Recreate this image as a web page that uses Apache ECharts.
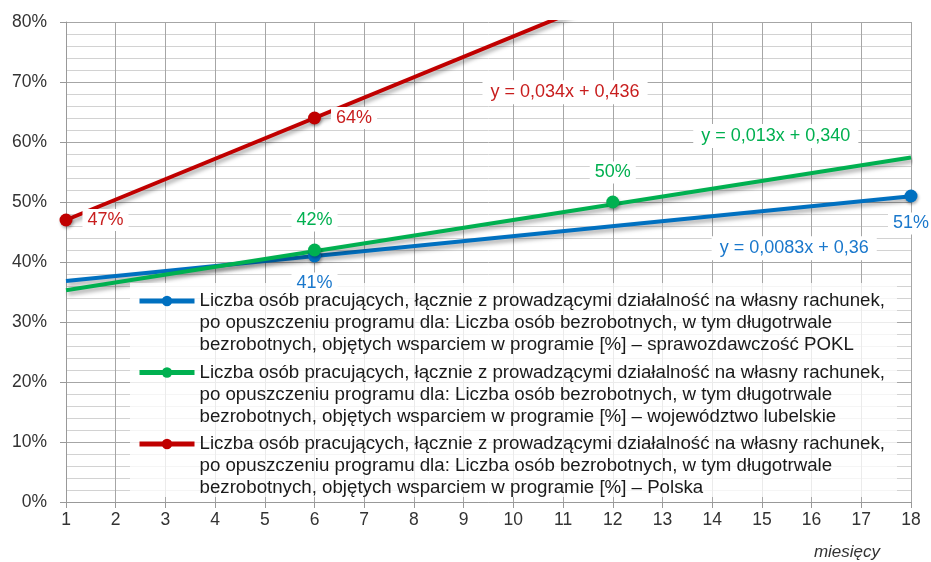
<!DOCTYPE html>
<html>
<head>
<meta charset="utf-8">
<script src="https://cdn.jsdelivr.net/npm/echarts@6/dist/echarts.min.js"></script>
<style>
  html, body { margin: 0; padding: 0; background: #fff; }
  #chart { width: 931px; height: 562px; }
</style>
</head>
<body>
<div id="chart"></div>
<script>
// Months after leaving the programme (x axis)
const monthTicks = [1, 2, 3, 4, 5, 6, 7, 8, 9, 10, 11, 12, 13, 14, 15, 16, 17, 18];

// Observed shares of employed persons
const poklMonths = [6, 18];
const poklValues = [0.41, 0.51];
const lubelskieMonths = [6, 12];
const lubelskieValues = [0.42, 0.50];
const polskaMonths = [1, 6];
const polskaValues = [0.47, 0.64];

// Linear trend coefficients: y = slope * x + intercept
const poklTrend = { slope: 0.0083, intercept: 0.36, text: 'y = 0,0083x + 0,36' };
const lubelskieTrend = { slope: 0.013, intercept: 0.340, text: 'y = 0,013x + 0,340' };
const polskaTrend = { slope: 0.034, intercept: 0.436, text: 'y = 0,034x + 0,436' };

const seriesNames = [
  'Liczba osób pracujących, łącznie z prowadzącymi działalność na własny rachunek,\npo opuszczeniu programu dla: Liczba osób bezrobotnych, w tym długotrwale\nbezrobotnych, objętych wsparciem w programie [%] – sprawozdawczość POKL',
  'Liczba osób pracujących, łącznie z prowadzącymi działalność na własny rachunek,\npo opuszczeniu programu dla: Liczba osób bezrobotnych, w tym długotrwale\nbezrobotnych, objętych wsparciem w programie [%] – województwo lubelskie',
  'Liczba osób pracujących, łącznie z prowadzącymi działalność na własny rachunek,\npo opuszczeniu programu dla: Liczba osób bezrobotnych, w tym długotrwale\nbezrobotnych, objętych wsparciem w programie [%] – Polska'
];

const BLUE = '#0070C0', GREEN = '#00B050', RED = '#C00000';
const BLUE_TXT = '#1A78CC', GREEN_TXT = '#00B050', RED_TXT = '#C81E1E';
const FONT = '"Liberation Sans", Arial, sans-serif';

// Where each trend equation is written (data coordinates)
const equationAnchor = {
  pokl: [15.65, 0.423],
  lubelskie: [15.28, 0.61],
  polska: [11.04, 0.683]
};

const xMin = monthTicks[0], xMax = monthTicks[monthTicks.length - 1];

function pairs(xs, ys) { return xs.map((x, i) => [x, ys[i]]); }
function trendPoints(t) {
  return [[xMin, t.slope * xMin + t.intercept], [xMax, t.slope * xMax + t.intercept]];
}
const pct = v => Math.round(v * 100) + '%';

function trendSeries(t, color, txtColor, anchor) {
  return {
    type: 'line',
    data: trendPoints(t),
    symbol: 'none',
    silent: true,
    z: 2,
    lineStyle: {
      color: color, width: 4,
      shadowColor: 'rgba(0,0,0,0.35)', shadowBlur: 4, shadowOffsetX: 2, shadowOffsetY: 3
    },
    markPoint: {
      symbol: 'circle', symbolSize: 0, silent: true,
      data: [{ coord: anchor, value: 0 }],
      label: {
        show: true, position: 'inside', formatter: t.text,
        color: txtColor, fontFamily: FONT, fontSize: 18,
        backgroundColor: '#fff', padding: [3, 8]
      }
    }
  };
}

function pointSeries(name, xs, ys, color, txtColor, pos, dist) {
  return {
    name: name,
    type: 'line',
    data: pairs(xs, ys),
    symbol: 'circle',
    symbolSize: 13,
    z: 3,
    itemStyle: { color: color, shadowColor: 'rgba(0,0,0,0.3)', shadowBlur: 3, shadowOffsetX: 1, shadowOffsetY: 2 },
    lineStyle: { color: color, width: 4, opacity: 0 },
    label: {
      show: true,
      position: pos,
      distance: dist,
      formatter: p => pct(p.value[1]),
      color: txtColor, fontFamily: FONT, fontSize: 18,
      backgroundColor: '#fff', padding: [2, 5]
    }
  };
}

const chart = echarts.init(document.getElementById('chart'));

chart.setOption({
  animation: false,
  backgroundColor: '#fff',
  grid: { left: 66, right: 20, top: 22, bottom: 60 },
  xAxis: {
    type: 'value',
    min: xMin, max: xMax, interval: 1,
    name: 'miesięcy',
    nameLocation: 'end',
    nameGap: -31,
    nameTextStyle: {
      fontFamily: FONT, fontSize: 17, fontStyle: 'italic', color: '#333',
      align: 'right', verticalAlign: 'top', padding: [42, 0, 0, 0]
    },
    axisLine: { lineStyle: { color: '#999', width: 1 } },
    axisTick: { show: true, length: 6, lineStyle: { color: '#999' } },
    axisLabel: { fontFamily: FONT, fontSize: 17.5, color: '#333', margin: 9 },
    splitLine: { show: true, lineStyle: { color: '#a6a6a6', width: 1 } }
  },
  yAxis: {
    type: 'value',
    min: 0, max: 0.8, interval: 0.1,
    axisLine: { show: true, lineStyle: { color: '#999', width: 1 } },
    axisTick: { show: true, length: 6, lineStyle: { color: '#999' } },
    axisLabel: { fontFamily: FONT, fontSize: 17.5, color: '#333', margin: 19, formatter: pct },
    splitLine: { show: true, lineStyle: { color: '#a6a6a6', width: 1 } },
    minorTick: { show: false, splitNumber: 5 },
    minorSplitLine: { show: true, lineStyle: { color: '#d2d2d2', width: 1 } }
  },
  graphic: [{
    type: 'rect',
    z: 3,
    silent: true,
    shape: { x: 130, y: 283, width: 767, height: 214 },
    style: { fill: 'rgba(255,255,255,0.78)' }
  }],
  legend: {
    orient: 'vertical',
    left: 137,
    top: 246,
    padding: 0,
    itemGap: -38.5,
    itemWidth: 55,
    itemHeight: 13,
    data: seriesNames,
    selectedMode: false,
    lineStyle: { width: 5, opacity: 1 },
    // two leading blank lines keep the icon level with the first text line
    formatter: name => '\n\n' + name,
    textStyle: {
      fontFamily: FONT, fontSize: 18.7, lineHeight: 22, color: '#1a1a1a'
    }
  },
  series: [
    trendSeries(poklTrend, BLUE, BLUE_TXT, equationAnchor.pokl),
    trendSeries(lubelskieTrend, GREEN, GREEN_TXT, equationAnchor.lubelskie),
    trendSeries(polskaTrend, RED, RED_TXT, equationAnchor.polska),
    pointSeries(seriesNames[0], poklMonths, poklValues, BLUE, BLUE_TXT, 'bottom', 10),
    pointSeries(seriesNames[1], lubelskieMonths, lubelskieValues, GREEN, GREEN_TXT, 'top', 12),
    pointSeries(seriesNames[2], polskaMonths, polskaValues, RED, RED_TXT, 'right', 10)
  ]
});
</script>
</body>
</html>
